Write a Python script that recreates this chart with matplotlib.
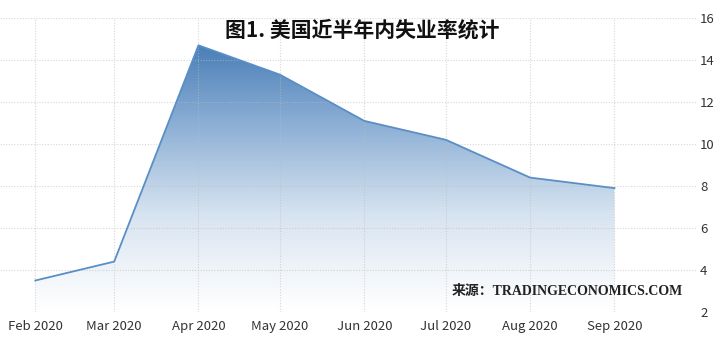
import numpy as np
import matplotlib
matplotlib.use('Agg')
import matplotlib.pyplot as plt
import matplotlib.dates as mdates
from matplotlib.colors import LinearSegmentedColormap
from datetime import date, timedelta

# 数据：美国失业率（%）
months = ['2020-02-01', '2020-03-01', '2020-04-01', '2020-05-01',
          '2020-06-01', '2020-07-01', '2020-08-01', '2020-09-01']
month_labels = ['Feb 2020', 'Mar 2020', 'Apr 2020', 'May 2020',
                'Jun 2020', 'Jul 2020', 'Aug 2020', 'Sep 2020']
rates = [3.5, 4.4, 14.7, 13.3, 11.1, 10.2, 8.4, 7.9]
yticks = [2, 4, 6, 8, 10, 12, 14, 16]

plt.rcParams['font.family'] = ['Noto Sans CJK SC', 'DejaVu Sans']

dates = [date.fromisoformat(m) for m in months]
x = mdates.date2num(dates)
y = np.array(rates)

fig = plt.figure(figsize=(7.25, 3.42), dpi=100)
ax = fig.add_axes([0.0, 1 - 312 / 342, 696 / 725, (312 - 18) / 342])

ymin, ymax = 2, 16
x0 = mdates.date2num(date(2020, 2, 1) - timedelta(days=13.5))
x1 = mdates.date2num(date(2020, 9, 1) + timedelta(days=30))
ax.set_xlim(x0, x1)
ax.set_ylim(ymin, ymax)

# 渐变填充
cmap = LinearSegmentedColormap.from_list('blues', ['#ffffff', '#d6e3f0', '#8fb1d6', '#4a7fb8'])
grad = np.linspace(0, 1, 256).reshape(-1, 1) ** 1.1
top = y.max()
img = ax.imshow(grad, cmap=cmap, aspect='auto', origin='lower',
                extent=[x[0], x[-1], ymin, top], zorder=1)
poly = ax.fill_between(x, y, ymin, color='none', lw=0)
clip = poly.get_paths()[0]
img.set_clip_path(clip, transform=ax.transData)
ax.plot(x, y, color='#5a8ec6', lw=1.3, zorder=3)

# 网格与刻度
ax.set_xticks(x)
ax.set_xticklabels(month_labels)
ax.set_yticks(yticks)
ax.yaxis.tick_right()
ax.set_axisbelow(False)
ax.grid(True, color='#bdbdbd', alpha=0.6, ls=(0, (1, 1.5)), lw=0.8)
ax.tick_params(axis='both', length=0, labelsize=9.5, colors='#333333')
ax.tick_params(axis='y', pad=3)
ax.tick_params(axis='x', pad=6)
for s in ax.spines.values():
    s.set_visible(False)

fig.text(362 / 725, 1 - 30 / 342, '图1. 美国近半年内失业率统计', ha='center', va='center',
         fontsize=15, fontweight='bold', color='#111111')
fig.text(683 / 725, 1 - 291 / 342, '来源：TRADINGECONOMICS.COM', ha='right', va='center',
         fontsize=10, fontweight='bold', color='#222222',
         family=['Liberation Serif', 'Noto Sans CJK SC'])

fig.savefig('out.png', dpi=100)
